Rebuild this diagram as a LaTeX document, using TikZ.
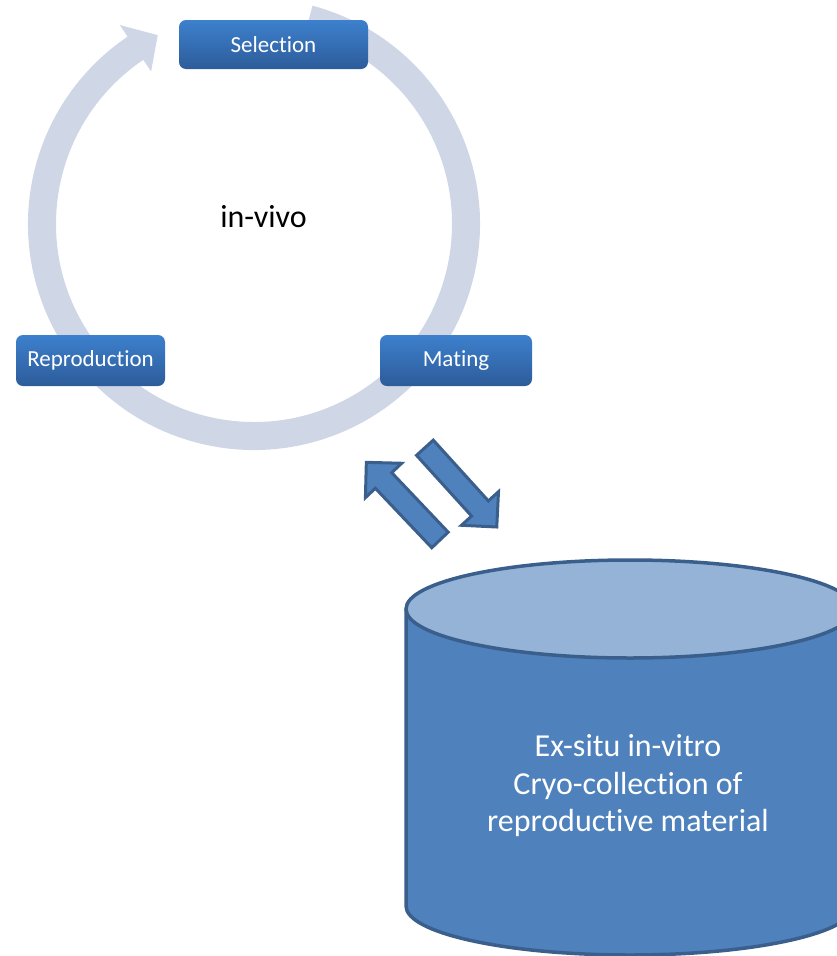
\documentclass[tikz,border=0pt]{standalone}
\usepackage{fontspec}
\setmainfont{Carlito}[Ligatures=NoCommon]
\usepackage{tikz}
\definecolor{ringgray}{HTML}{CFD6E6}
\definecolor{boxtop}{HTML}{3D80CD}
\definecolor{boxbottom}{HTML}{2D5C9A}
\definecolor{arrowfill}{HTML}{4F81BD}
\definecolor{arrowline}{HTML}{3A5F8D}
\definecolor{cyltop}{HTML}{95B3D7}

\tikzset{
  cyclebox/.style={rounded corners=7pt, top color=boxtop, bottom color=boxbottom,
    text=white, font=\fontsize{23}{27}\selectfont, inner sep=0pt},
  blockarrow/.style={fill=arrowfill, draw=arrowline, line width=3pt, line join=miter},
}

\begin{document}
\begin{tikzpicture}[x=1pt, y=-1pt, line join=round]
  \useasboundingbox (0,0) rectangle (837,956);
  % cycle ring with one head at the top left
  \begin{scope}[shift={(254,224)}]
    \fill[ringgray] (-75:226) arc[start angle=-75, end angle=236, radius=226]
      -- (236:240) -- (243:212) -- (236:184) -- (236:198)
      arc[start angle=236, end angle=-75, radius=198] -- cycle;
  \end{scope}
  % steps of the cycle
  \node[cyclebox, minimum width=189pt, minimum height=49pt] (selection) at (273.5,44.5) {Selection};
  \node[cyclebox, minimum width=152pt, minimum height=51pt] (mating) at (456,360.5) {Mating};
  \node[cyclebox, minimum width=149pt, minimum height=51pt] (reproduction) at (90.5,360.5) {Reproduction};
  \node[font=\fontsize{32}{38}\selectfont, anchor=base] (invivo) at (263.5,227) {in-vivo};
  % the two block arrows
  \foreach \c/\a in {{(403.5,501.5)}/133.5, {(460.5,487)}/-47.8}
    \draw[blockarrow, shift={\c}, rotate=\a]
      (-53,-11.3) -- (29,-11.3) -- (29,-25) -- (54,0) -- (29,25) -- (29,11.3) -- (-53,11.3) -- cycle;
  % cryo collection
  \filldraw[fill=arrowfill, draw=arrowline, line width=3.5pt]
    (406,609) -- (406,906) arc[start angle=180, end angle=0, x radius=224, y radius=49]
    -- (854,609) -- cycle;
  \filldraw[fill=cyltop, draw=arrowline, line width=3.5pt] (630,609) ellipse[x radius=224, y radius=49];
  \node[text=white, align=center, font=\fontsize{32}{37.5}\selectfont] (cryo) at (628,786)
    {Ex-situ in-vitro\\Cryo-collection of\\reproductive material};
\end{tikzpicture}
\end{document}
